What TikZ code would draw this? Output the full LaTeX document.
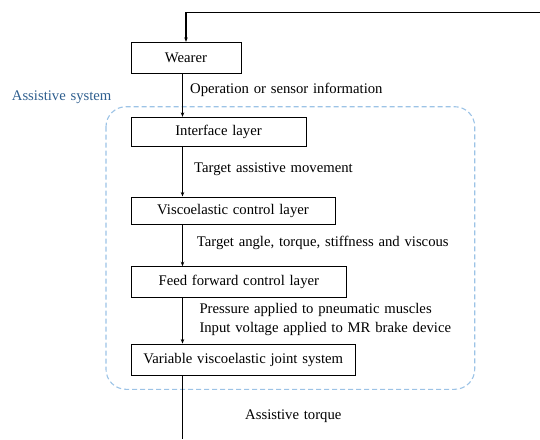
\documentclass[tikz,border=0pt]{standalone}
\usepackage{fontspec}
\setmainfont{Liberation Serif}[WordSpace={1.3,1.2,0.8}]
\usetikzlibrary{arrows.meta,calc}
\definecolor{sysblue}{HTML}{2F5F8F}
\definecolor{dashblue}{HTML}{9CC3E6}
\begin{document}
\begin{tikzpicture}[x=1pt,y=-1pt,
  every node/.style={font=\fontsize{14.7}{16}\selectfont},
  layerbox/.style={draw, line width=0.9pt, inner sep=0pt, anchor=center},
  lbl/.style={anchor=west, inner sep=0pt},
  arr/.style={line width=1.1pt, -{Stealth[length=4.5pt,width=3.5pt]}},
  plain/.style={line width=1.1pt}]
\useasboundingbox (0,0) rectangle (540,439);
% system frame
\draw[dashblue, dashed, line width=1.1pt, rounded corners=20pt, dash pattern=on 5pt off 3pt] (106,106.7) rectangle (474.7,389.3);
\node[lbl, text=sysblue] (sys) at (11.7,97.3) {Assistive system};
% boxes
\node[layerbox, minimum width=110pt, minimum height=31pt] (wearer) at (186,57.8) {Wearer};
\node[layerbox, minimum width=175pt, minimum height=29.4pt] (iface) at (218.5,132) {Interface layer};
\node[layerbox, minimum width=204pt, minimum height=27.7pt] (visco) at (233,210.8) {Viscoelastic control layer};
\node[layerbox, minimum width=215.7pt, minimum height=30.6pt] (feed) at (238.8,282) {Feed forward control layer};
\node[layerbox, minimum width=224.7pt, minimum height=31pt] (var) at (243.3,359.5) {Variable viscoelastic joint system};
% column and loop ends
\coordinate (col) at (182.5,0);
\coordinate (fbin) at (540,12.3);
\coordinate (fbout) at (182.5,439);
% connectors
\draw[arr] (fbin) -| (wearer.north);
\draw[arr] (wearer.south -| col) -- (iface.north -| col);
\draw[arr] (iface.south -| col) -- (visco.north -| col);
\draw[arr] (visco.south -| col) -- (feed.north -| col);
\draw[arr] (feed.south -| col) -- (var.north -| col);
\draw[plain] (var.south -| col) -- (fbout);
% labels
\node[lbl] (l1) at (190,90) {Operation or sensor information};
\node[lbl] (l2) at (194,169) {Target assistive movement};
\node[lbl] (l3) at (196.7,243.3) {Target angle, torque, stiffness and viscous};
\node[lbl] (l4) at (199.3,310) {Pressure applied to pneumatic muscles};
\node[lbl] (l5) at (199.3,329) {Input voltage applied to MR brake device};
\node[lbl] (l6) at (245,416) {Assistive torque};
\end{tikzpicture}
\end{document}
